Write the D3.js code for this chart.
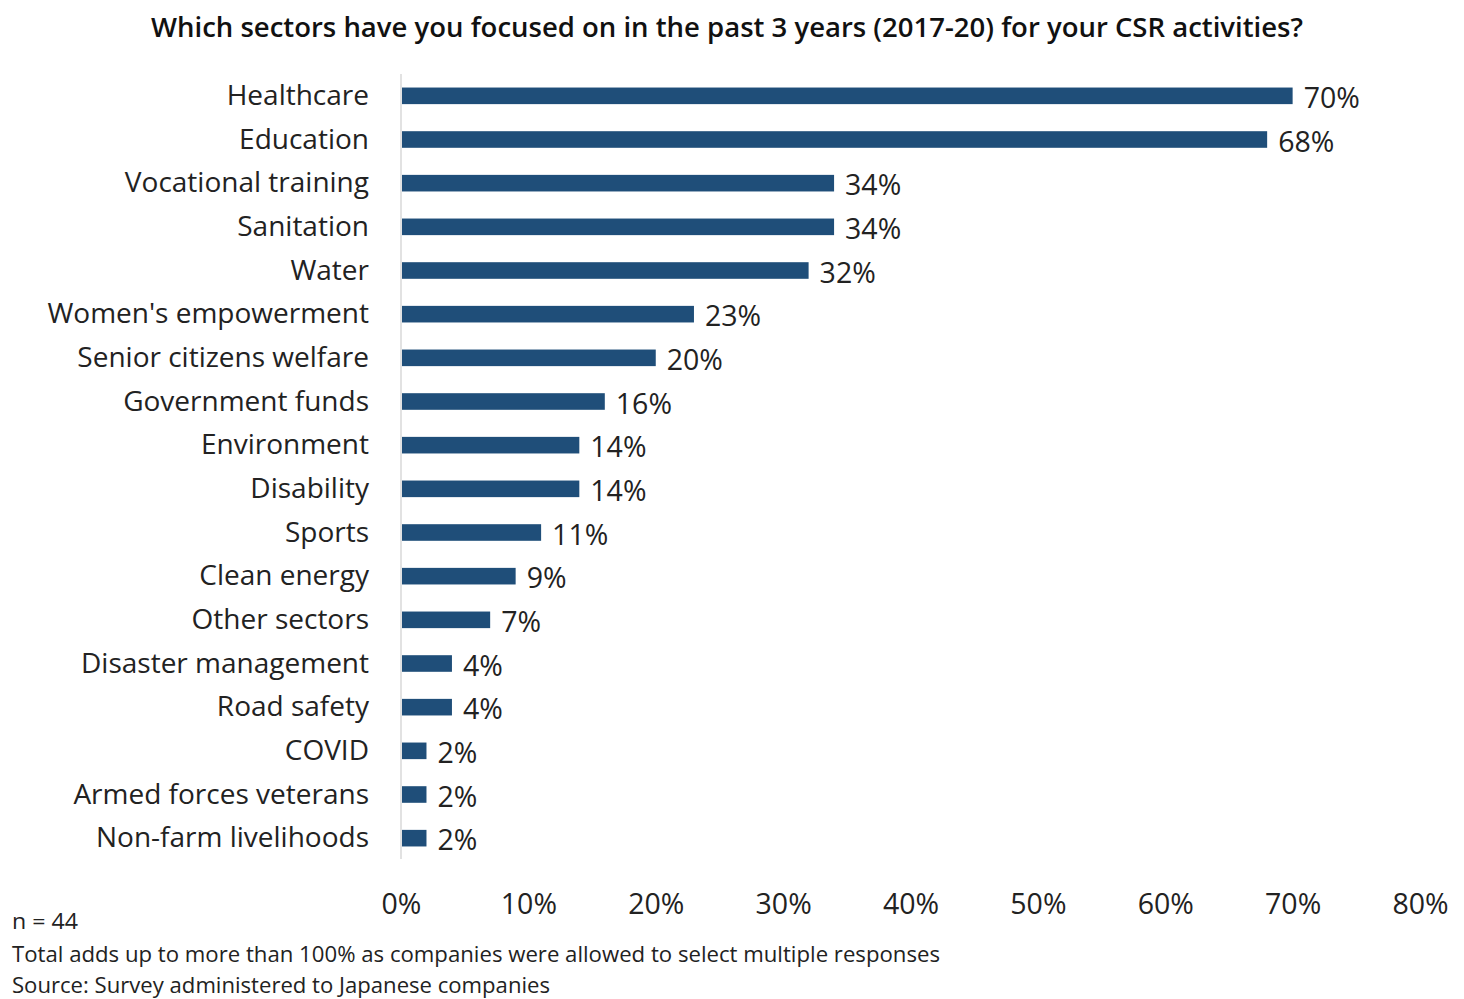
<!DOCTYPE html>
<html>
<head>
<meta charset="utf-8">
<script src="https://cdn.jsdelivr.net/npm/d3@7/dist/d3.min.js"></script>
<style>
  html, body { margin: 0; padding: 0; background: #ffffff; }
  svg { display: block; }
</style>
</head>
<body>
<svg id="chart" width="1464" height="999"></svg>
<script>
// Survey: CSR focus sectors, share of companies (%)
const sectors = [
  "Healthcare", "Education", "Vocational training", "Sanitation", "Water",
  "Women's empowerment", "Senior citizens welfare", "Government funds",
  "Environment", "Disability", "Sports", "Clean energy", "Other sectors",
  "Disaster management", "Road safety", "COVID", "Armed forces veterans",
  "Non-farm livelihoods"
];
const shares = [70, 68, 34, 34, 32, 23, 20, 16, 14, 14, 11, 9, 7, 4, 4, 2, 2, 2];
const tickValues = [0, 10, 20, 30, 40, 50, 60, 70, 80];

const titleText = "Which sectors have you focused on in the past 3 years (2017-20) for your CSR activities?";
const notes = [
  "n = 44",
  "Total adds up to more than 100% as companies were allowed to select multiple responses",
  "Source: Survey administered to Japanese companies"
];

const svg = d3.select("#chart");
const font = "'Open Sans', 'Noto Sans', sans-serif";
const barColor = "#1f4e79";
const textColor = "#222222";

const x = d3.scaleLinear().domain([0, 80]).range([401, 1420]);
const y = d3.scaleBand().domain(sectors).range([74, 860]).paddingInner(0.62).paddingOuter(0.31);

// Title
svg.append("text")
  .attr("x", 727).attr("y", 37)
  .attr("text-anchor", "middle")
  .attr("font-family", font)
  .attr("font-weight", 600)
  .attr("font-size", 27)
  .attr("fill", "#111")
  .attr("textLength", 1152)
  .attr("lengthAdjust", "spacingAndGlyphs")
  .text(titleText);

// Vertical category axis line
svg.append("line")
  .attr("x1", x(0)).attr("x2", x(0))
  .attr("y1", 74).attr("y2", 859)
  .attr("stroke", "#d9d9d9").attr("stroke-width", 1.5);

// Category labels
svg.append("g").selectAll("text")
  .data(sectors)
  .join("text")
  .attr("x", 369)
  .attr("y", d => y(d) + y.bandwidth() / 2 + 9)
  .attr("text-anchor", "end")
  .attr("font-family", font)
  .attr("font-size", 28)
  .attr("fill", textColor)
  .text(d => d);

// Bars
svg.append("g").selectAll("rect")
  .data(sectors)
  .join("rect")
  .attr("x", x(0) + 1)
  .attr("y", (d, i) => y(d))
  .attr("width", (d, i) => x(shares[i]) - x(0) - 1)
  .attr("height", y.bandwidth())
  .attr("fill", barColor);

// Value labels
svg.append("g").selectAll("text")
  .data(sectors)
  .join("text")
  .attr("x", (d, i) => x(shares[i]) + 11)
  .attr("y", d => y(d) + y.bandwidth() / 2 + 12)
  .attr("font-family", font)
  .attr("font-size", 28.5)
  .attr("fill", textColor)
  .text((d, i) => shares[i] + "%");

// Percentage axis (labels only)
const xAxis = d3.axisBottom(x)
  .tickValues(tickValues)
  .tickFormat(d => d + "%")
  .tickSize(0)
  .tickPadding(0);

const gx = svg.append("g")
  .attr("transform", "translate(0, 894)")
  .call(xAxis);
gx.select(".domain").remove();
gx.selectAll("text")
  .attr("font-family", font)
  .attr("font-size", 28.5)
  .attr("fill", textColor)
  .attr("dy", "0.71em");

// Footnotes
const noteY = [929, 962, 993];
const noteLen = [66, 928, 538];
svg.append("g").selectAll("text")
  .data(notes)
  .join("text")
  .attr("x", 12)
  .attr("y", (d, i) => noteY[i])
  .attr("font-family", font)
  .attr("font-size", 21)
  .attr("fill", textColor)
  .attr("textLength", (d, i) => noteLen[i])
  .attr("lengthAdjust", "spacingAndGlyphs")
  .text(d => d);
</script>
</body>
</html>
